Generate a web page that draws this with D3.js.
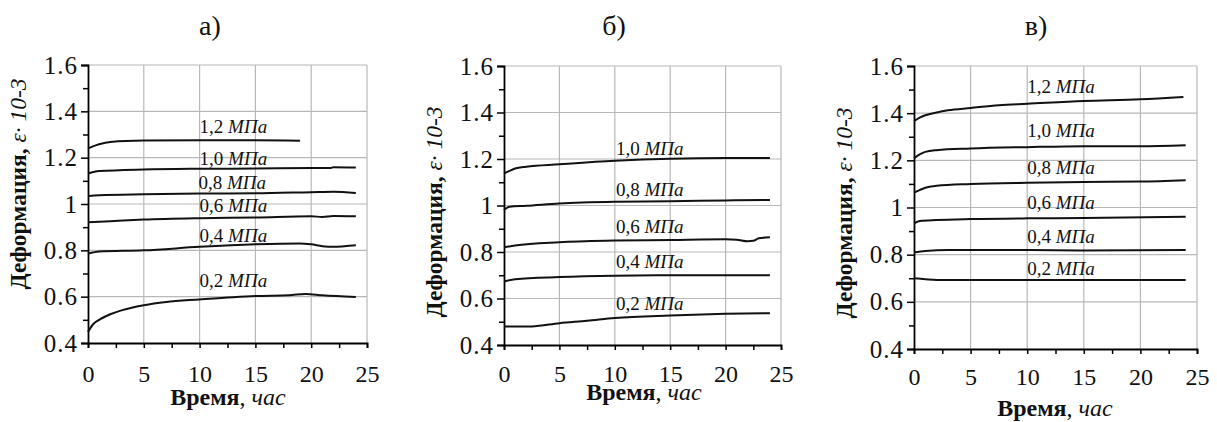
<!DOCTYPE html>
<html>
<head>
<meta charset="utf-8">
<script src="https://cdn.jsdelivr.net/npm/d3@7"></script>
<style>
  html, body { margin: 0; padding: 0; background: #fff; }
  svg { display: block; }
</style>
</head>
<body>
<svg id="chart" width="1217" height="422"></svg>
<script>
// ---------- DATA ----------
const panelTitles = ["а)", "б)", "в)"];
const xTicks = [0, 5, 10, 15, 20, 25];
const xMinorTicks = [2.5, 7.5, 12.5, 17.5, 22.5];
const yTicks = [0.4, 0.6, 0.8, 1.0, 1.2, 1.4, 1.6];
const yTickLabels = ["0.4", "0.6", "0.8", "1", "1.2", "1.4", "1.6"];
const yMinorTicks = [0.5, 0.7, 0.9, 1.1, 1.3, 1.5];
const stressA = ["0,2", "0,4", "0,6", "0,8", "1,0", "1,2"];
const stressB = ["0,2", "0,4", "0,6", "0,8", "1,0"];
const stressC = ["0,2", "0,4", "0,6", "0,8", "1,0", "1,2"];

// Panel а) : [time, strain]
const a02 = [[0,0.448],[0.5,0.483],[1,0.50],[2,0.524],[3,0.541],[5,0.563],[7,0.577],[10,0.588],[13,0.598],[15,0.603],[18,0.606],[19.5,0.612],[21,0.606],[24,0.599]];
const a04 = [[0,0.786],[1,0.795],[5,0.80],[10,0.815],[15,0.826],[19,0.830],[20,0.826],[21,0.818],[22,0.815],[23,0.818],[24,0.822]];
const a06 = [[0,0.921],[2,0.926],[5,0.933],[10,0.939],[15,0.942],[20,0.947],[21,0.944],[22,0.948],[24,0.947]];
const a08 = [[0,1.034],[1,1.038],[5,1.042],[10,1.045],[15,1.046],[20,1.051],[22,1.053],[24,1.048]];
const a10 = [[0,1.132],[1,1.142],[5,1.149],[10,1.152],[15,1.153],[20,1.155],[21.7,1.155],[22,1.159],[24,1.158]];
const a12 = [[0,1.240],[0.5,1.250],[1,1.258],[2,1.268],[5,1.274],[10,1.275],[15,1.275],[19,1.273]];
// Panel б)
const b02 = [[0,0.480],[2.5,0.480],[5,0.494],[7.5,0.504],[10,0.516],[15,0.527],[20,0.534],[24,0.537]];
const b04 = [[0,0.673],[1,0.683],[5,0.692],[10,0.698],[15,0.700],[24,0.700]];
const b06 = [[0,0.820],[1,0.828],[5,0.842],[10,0.849],[15,0.852],[20,0.855],[21,0.853],[22,0.846],[22.5,0.848],[23,0.859],[24,0.863]];
const b08 = [[0,0.981],[0.5,0.995],[2,0.999],[5,1.009],[10,1.016],[15,1.018],[20,1.022],[24,1.024]];
const b10 = [[0,1.138],[0.5,1.149],[1,1.159],[2,1.167],[5,1.177],[10,1.192],[15,1.201],[20,1.204],[24,1.204]];
// Panel в)
const c02 = [[0,0.700],[1,0.696],[2,0.693],[10,0.693],[24,0.693]];
const c04 = [[0,0.810],[1,0.816],[3,0.820],[10,0.820],[15,0.818],[24,0.820]];
const c06 = [[0,0.933],[0.5,0.943],[2,0.947],[5,0.951],[10,0.954],[15,0.955],[24,0.961]];
const c08 = [[0,1.063],[0.5,1.074],[1,1.084],[2,1.092],[5,1.0995],[10,1.105],[15,1.108],[20,1.110],[24,1.116]];
const c10 = [[0,1.209],[0.5,1.225],[1,1.236],[2,1.243],[5,1.250],[10,1.256],[15,1.260],[20,1.260],[24,1.264]];
const c12 = [[0,1.366],[0.5,1.381],[1,1.391],[2,1.403],[3,1.412],[5,1.422],[7.5,1.434],[10,1.440],[15,1.452],[20,1.459],[23.8,1.469]];

// label anchor points [time, strain] for the pressure annotations
const labA = [[10,0.642],[10,0.836],[10,0.966],[9.9,1.064],[10,1.168],[10,1.305]];
const labB = [[10.1,0.549],[10.1,0.730],[10.1,0.883],[10.1,1.041],[10.1,1.217]];
const labC = [[10,0.714],[10,0.851],[10,0.992],[10,1.14],[10,1.30],[10,1.486]];

// ---------- LAYOUT ----------
const FONT = "'Liberation Serif', 'DejaVu Serif', serif";
const panels = [
  { title: panelTitles[0], series: [a02,a04,a06,a08,a10,a12], stress: stressA, labs: labA,
    box: {l: 88, r: 367, t: 65, b: 343}, titleX: 210, yTitleY: 184, xTitleX: 228, xTitleY: 405, xLabY: 39 },
  { title: panelTitles[1], series: [b02,b04,b06,b08,b10], stress: stressB, labs: labB,
    box: {l: 504, r: 781, t: 66, b: 345}, titleX: 614, yTitleY: 212, xTitleX: 644, xTitleY: 400, xLabY: 37 },
  { title: panelTitles[2], series: [c02,c04,c06,c08,c10,c12], stress: stressC, labs: labC,
    box: {l: 914, r: 1197, t: 66, b: 349}, titleX: 1036, yTitleY: 213, xTitleX: 1055, xTitleY: 416, xLabY: 36 }
];

const svg = d3.select("#chart");
const gridColor = "#b8b8b8";

panels.forEach(p => {
  const B = p.box;
  const x = d3.scaleLinear().domain([0, 25]).range([B.l, B.r]);
  const y = d3.scaleLinear().domain([0.4, 1.6]).range([B.b, B.t]);
  const g = svg.append("g");

  // grid
  g.append("g").selectAll("line").data(xTicks.slice(1)).join("line")
    .attr("x1", d => x(d)).attr("x2", d => x(d)).attr("y1", B.t).attr("y2", B.b)
    .attr("stroke", gridColor).attr("stroke-width", 1.2);
  g.append("g").selectAll("line").data(yTicks.slice(1)).join("line")
    .attr("x1", B.l).attr("x2", B.r).attr("y1", d => y(d)).attr("y2", d => y(d))
    .attr("stroke", gridColor).attr("stroke-width", 1.2);

  // axes
  const yAxis = g.append("g").attr("transform", `translate(${B.l},0)`)
    .call(d3.axisLeft(y).tickValues(yTicks).tickFormat((d, i) => yTickLabels[i]).tickSize(7).tickPadding(3));
  g.append("g").attr("transform", `translate(${B.l},0)`)
    .call(d3.axisLeft(y).tickValues(yMinorTicks).tickFormat("").tickSize(5))
    .select(".domain").remove();
  const xAxis = g.append("g").attr("transform", `translate(0,${B.b})`)
    .call(d3.axisBottom(x).tickValues(xTicks).tickSize(5));
  g.append("g").attr("transform", `translate(0,${B.b})`)
    .call(d3.axisBottom(x).tickValues(xMinorTicks).tickFormat("").tickSize(5))
    .select(".domain").remove();

  [yAxis, xAxis].forEach(ax => {
    ax.selectAll(".domain").attr("stroke", "#000").attr("stroke-width", 1.8);
    ax.attr("font-family", FONT);
  });
  g.selectAll(".tick line").attr("stroke", "#000").attr("stroke-width", 1.5);
  yAxis.selectAll("text").style("font-family", FONT).style("font-size", "25px")
    .style("letter-spacing", "1px").attr("fill", "#111");
  xAxis.selectAll("text").style("font-family", FONT).style("font-size", "24px").attr("fill", "#111")
    .attr("y", p.xLabY).attr("dy", 0);

  // curves
  const line = d3.line().x(d => x(d[0])).y(d => y(d[1])).curve(d3.curveMonotoneX);
  g.append("g").selectAll("path").data(p.series).join("path")
    .attr("d", line).attr("fill", "none").attr("stroke", "#111").attr("stroke-width", 2);

  // annotations
  const lab = g.append("g").selectAll("text").data(p.labs).join("text")
    .attr("x", d => x(d[0])).attr("y", d => y(d[1]))
    .style("font-family", FONT).style("font-size", "19px").attr("fill", "#111");
  lab.append("tspan").text((d, i) => p.stress[i] + " ");
  lab.append("tspan").style("font-style", "italic").text("МПа");

  // panel title
  g.append("text").attr("x", p.titleX).attr("y", 35).attr("text-anchor", "middle")
    .style("font-family", FONT).style("font-size", "28px").attr("fill", "#111").text(p.title);

  // y title
  const yt = g.append("text")
    .attr("transform", `translate(${B.l - 62},${p.yTitleY}) rotate(-90)`)
    .attr("text-anchor", "middle").style("font-family", FONT).style("font-size", "23.5px").attr("fill", "#111");
  yt.append("tspan").style("font-weight", "bold").text("Деформация, ");
  yt.append("tspan").style("font-style", "italic").text("ε· 10-3");

  // x title
  const xt = g.append("text").attr("x", p.xTitleX).attr("y", p.xTitleY)
    .attr("text-anchor", "middle").style("font-family", FONT).style("font-size", "24px").attr("fill", "#111");
  xt.append("tspan").style("font-weight", "bold").text("Время");
  xt.append("tspan").text(", ");
  xt.append("tspan").style("font-style", "italic").text("час");
});
</script>
</body>
</html>
